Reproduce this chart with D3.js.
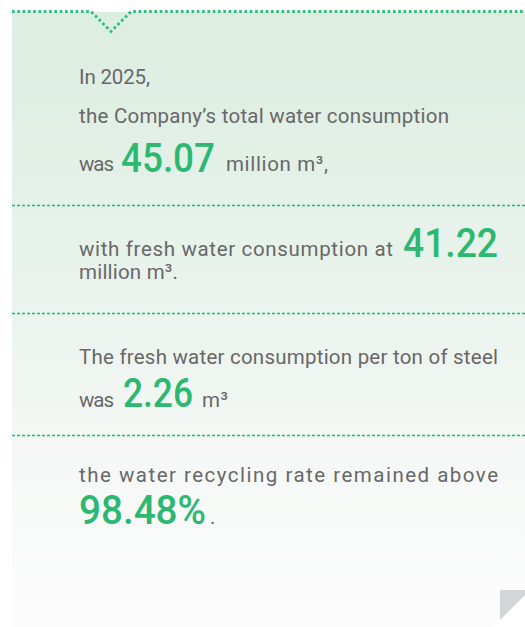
<!DOCTYPE html>
<html>
<head>
<meta charset="utf-8">
<script src="https://cdn.jsdelivr.net/npm/d3@7"></script>
<style>
  html, body { margin: 0; padding: 0; background: #fff; }
  svg { display: block; }
  text { font-family: Roboto, "Noto Sans", sans-serif; }
</style>
</head>
<body>
<svg id="card" width="525" height="627"></svg>
<script>
const year = '2025';
const values = [45.07, 41.22, 2.26, 98.48];
const units = ['million m³,', 'million m³.', 'm³', '%'];
const lead = [
  'the Company\u2019s total water consumption',
  'with fresh water consumption at',
  'The fresh water consumption per ton of steel',
  'the water recycling rate remained above'
];

const svg = d3.select('#card');
const W = +svg.attr('width'), H = +svg.attr('height');
const left = 12, textX = 79, textR = 498;
const gray = '#686868', green = '#2db872';

// background gradient
const defs = svg.append('defs');
const grad = defs.append('linearGradient')
  .attr('id', 'bg').attr('x1', 0).attr('y1', 0).attr('x2', 0).attr('y2', 1);
[[0, '#dcede1'], [0.45, '#e9f3ec'], [0.72, '#f5f8f6'], [1, '#fcfcfc']].forEach(s => {
  grad.append('stop').attr('offset', s[0]).attr('stop-color', s[1]);
});

// panel with folded corner cut
svg.append('path')
  .attr('d', `M${left},12 H${W} V595 L493,${H} H${left} Z`)
  .attr('fill', 'url(#bg)');

svg.append('path')
  .attr('d', 'M500,590 H530 L500,620 Z')
  .attr('fill', '#d3d6d6');

// top dotted border with notch
svg.append('path')
  .attr('d', `M${left},11.5 H91 L111,31.5 L131,11.5 H${W}`)
  .attr('fill', 'none')
  .attr('stroke', '#27c070')
  .attr('stroke-width', 2.8)
  .attr('stroke-dasharray', '2.6,2.7');

// separators (thin green dashes)
const sepY = [205, 313, 435];
svg.selectAll('line.sep')
  .data(sepY)
  .enter()
  .append('line')
  .attr('class', 'sep')
  .attr('x1', left).attr('x2', W)
  .attr('y1', d => d + 0.5).attr('y2', d => d + 0.5)
  .attr('stroke', '#12c46e')
  .attr('stroke-width', 1.6)
  .attr('stroke-dasharray', '3,2');

function put(str, x, y, size, color, len, adjust, weight) {
  const t = svg.append('text')
    .attr('x', x).attr('y', y)
    .attr('font-size', size)
    .attr('font-weight', weight || 400)
    .attr('fill', color)
    .text(str);
  if (len) t.attr('textLength', len).attr('lengthAdjust', adjust || 'spacing');
  return t;
}

const fmt = d3.format('.2f');
const small = 20.5, big = 40;
const num = (v, x, y, len) => put(v, x, y, big, green, len, 'spacingAndGlyphs', 500);

// block 1
put('In ' + year + ',', textX, 84, small, gray, 71);
put(lead[0], textX, 123, small, gray, 370);
put('was', textX, 171, small, gray, 35);
num(fmt(values[0]), 121, 172, 94);
put(units[0], 226, 171, small, gray, 102);

// block 2
put(lead[1], textX, 256, small, gray, 314);
num(fmt(values[1]), 403, 257, 95);
put(units[1], textX, 279, small, gray, 99);

// block 3
put(lead[2], textX, 364, small, gray, textR - textX);
put('was', textX, 407, small, gray, 35);
num(fmt(values[2]), 123, 407, 70);
put(units[2], 202, 407, small, gray, 26);

// block 4
put(lead[3], textX, 482, small, gray, textR - textX);
num(fmt(values[3]) + units[3], textX, 524, 127);
put('.', 210, 524, small, gray);
</script>
</body>
</html>
